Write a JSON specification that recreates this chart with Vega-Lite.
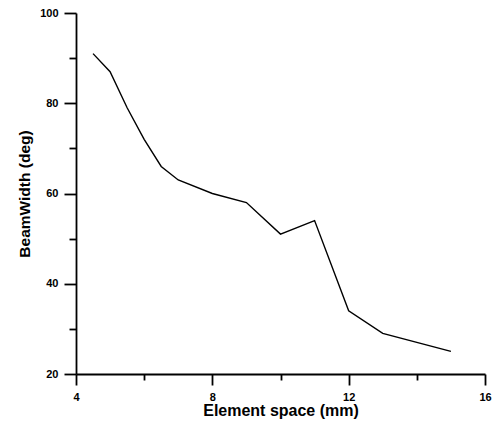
{
  "$schema": "https://vega.github.io/schema/vega-lite/v6.json",
  "width": 409,
  "height": 361,
  "autosize": "none",
  "padding": {"left": 76, "top": 13, "right": 8, "bottom": 49},
  "background": "white",
  "config": {"view": {"stroke": null}, "font": "Liberation Sans"},
  "data": {"values": [
    {"space": 4.5, "bw": 91},
    {"space": 5, "bw": 87},
    {"space": 5.5, "bw": 79},
    {"space": 6, "bw": 72},
    {"space": 6.5, "bw": 66},
    {"space": 7, "bw": 63},
    {"space": 8, "bw": 60},
    {"space": 9, "bw": 58},
    {"space": 10, "bw": 51},
    {"space": 11, "bw": 54},
    {"space": 12, "bw": 34},
    {"space": 13, "bw": 29},
    {"space": 15, "bw": 25}
  ]},
  "mark": {"type": "line", "color": "black", "strokeWidth": 1.4},
  "encoding": {
    "x": {
      "field": "space", "type": "quantitative",
      "scale": {"domain": [4, 16], "nice": false, "zero": false},
      "axis": {
        "title": "Element space (mm)", "titleFont": "Liberation Sans", "titleFontSize": 16, "titleFontWeight": "bold", "titleColor": "black", "titlePadding": 0,
        "values": [4, 6, 8, 10, 12, 14, 16],
        "grid": false, "domainColor": "black", "domainWidth": 1.8, "tickColor": "black", "tickWidth": 1.8,
        "tickSize": {"condition": {"test": "datum.value % 4 === 0", "value": 11}, "value": 6},
        "labelExpr": "datum.value % 4 === 0 ? datum.label : ''",
        "labelFont": "Liberation Sans", "labelFontSize": 11, "labelFontWeight": "bold", "labelColor": "black", "labelPadding": 6, "labelFlush": false
      }
    },
    "y": {
      "field": "bw", "type": "quantitative",
      "scale": {"domain": [20, 100], "nice": false, "zero": false},
      "axis": {
        "title": "BeamWidth (deg)", "titleFont": "Liberation Sans", "titleFontSize": 15.5, "titleFontWeight": "bold", "titleColor": "black", "titlePadding": 7,
        "values": [20, 30, 40, 50, 60, 70, 80, 90, 100],
        "grid": false, "domainColor": "black", "domainWidth": 1.8, "tickColor": "black", "tickWidth": 1.8,
        "tickSize": {"condition": {"test": "datum.value % 20 === 0", "value": 12}, "value": 7},
        "labelExpr": "datum.value % 20 === 0 ? datum.label : ''",
        "labelFont": "Liberation Sans", "labelFontSize": 11, "labelFontWeight": "bold", "labelColor": "black", "labelPadding": 6, "labelFlush": false
      }
    }
  }
}
